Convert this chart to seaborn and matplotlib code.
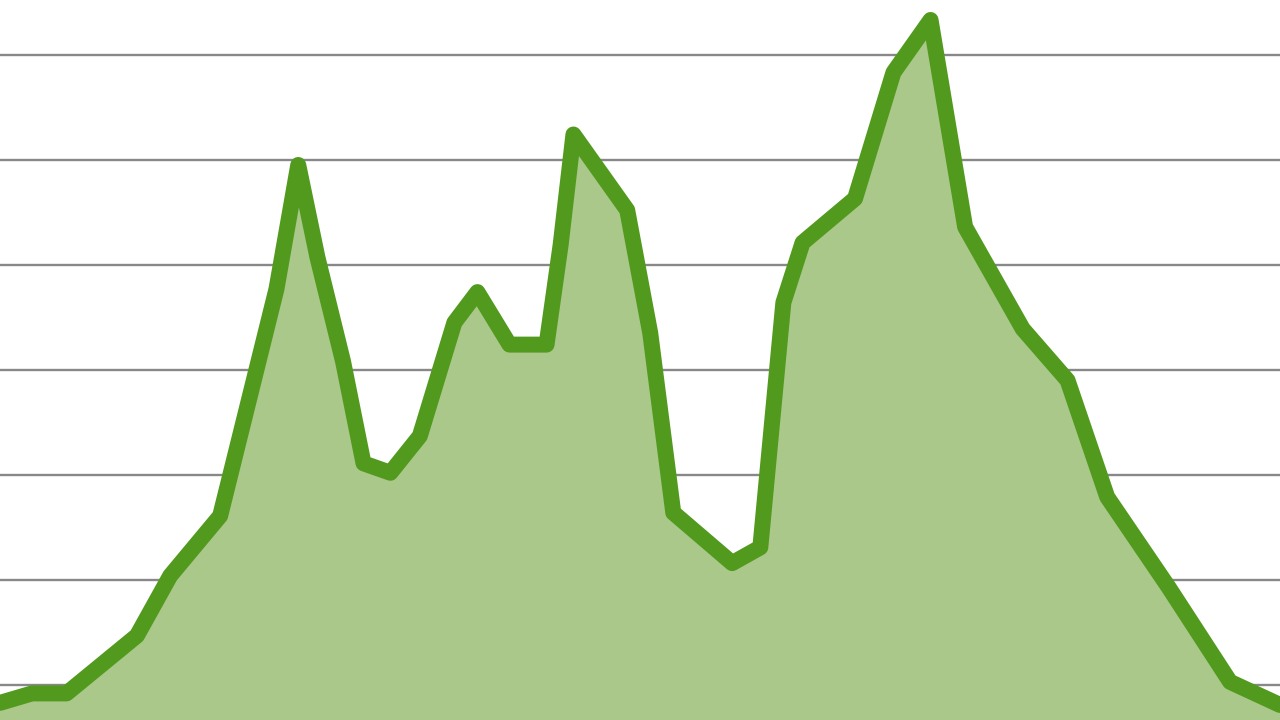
import matplotlib
matplotlib.use("Agg")
import matplotlib.pyplot as plt
import seaborn as sns
import pandas as pd

# ── Data ──────────────────────────────────────────────────────────────────────
x_pos = [0, 2.5, 5.2, 10.7, 13.3, 17.2, 21.6, 23.3, 24.8, 26.8, 28.4, 30.5,
         32.8, 35.5, 37.3, 39.8, 42.7, 43.8, 44.8, 49.0, 50.8, 52.6, 57.2,
         59.4, 61.2, 62.7, 66.8, 69.8, 72.7, 75.4, 79.9, 83.4, 86.5, 91.3,
         96.1, 100]
values = [8.3, 9.2, 9.2, 14.7, 20.4, 26.1, 47.7, 59.5, 50.7, 40.8, 31.1, 30.2,
          33.7, 44.5, 47.4, 42.4, 42.4, 51.9, 62.4, 55.2, 43.5, 26.4, 21.6,
          23.1, 46.4, 52.1, 56.3, 68.3, 73.3, 53.6, 43.9, 39.0, 27.9, 19.3,
          10.3, 8.1]
grid_ticks = [10, 20, 30, 40, 50, 60, 70]

LINE = "#529a1e"
FILL = "#aac88a"
GRID = "#888888"

df = pd.DataFrame({"x": x_pos, "value": values})

sns.set_style("white")
fig = plt.figure(figsize=(12.8, 7.2), dpi=100)
ax = fig.add_axes([0, 0, 1, 1])

ax.fill_between(df["x"], df["value"], 0, color=FILL, linewidth=0, zorder=1)
sns.lineplot(data=df, x="x", y="value", ax=ax, color=LINE, linewidth=11.5,
             solid_joinstyle="round", solid_capstyle="round", zorder=2)

ax.set_xlim(0, 100)
ax.set_ylim(6.67, 75.2)
ax.set_yticks(grid_ticks)
ax.yaxis.grid(True, color=GRID, linewidth=1.7)
ax.xaxis.grid(False)
ax.set_axisbelow(True)
ax.tick_params(left=False, bottom=False, labelleft=False, labelbottom=False)
ax.set_xlabel("")
ax.set_ylabel("")
for s in ax.spines.values():
    s.set_visible(False)

fig.savefig("out.png", dpi=100)
